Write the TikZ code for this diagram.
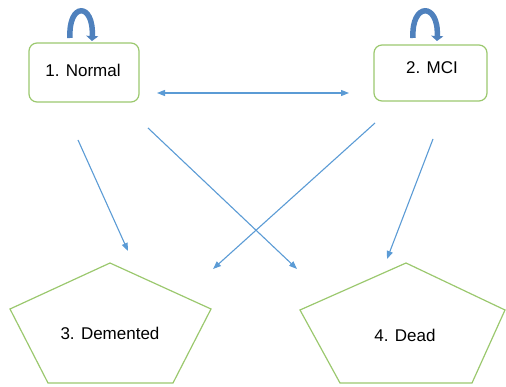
\documentclass[tikz,border=0pt]{standalone}
\usepackage{fontspec}
\setmainfont{Liberation Sans}
\usetikzlibrary{arrows.meta}
\definecolor{boxgreen}{RGB}{155,200,110}
\definecolor{arrblue}{RGB}{91,155,213}
\definecolor{loopblue}{RGB}{79,129,189}
\begin{document}
\begin{tikzpicture}[x=1pt,y=-1pt,
  statebox/.style={draw=boxgreen, line width=1.2pt, rounded corners=8pt, inner sep=0pt},
  pent/.style={draw=boxgreen, line width=1.2pt, line join=miter},
  lbl/.style={font=\fontsize{17}{20}\selectfont, inner sep=0pt},
  conn/.style={draw=arrblue, line width=1.1pt, -{Triangle[length=8pt,width=6pt]}},
  dconn/.style={draw=arrblue, line width=1.1pt, {Triangle[length=8pt,width=6pt]}-{Triangle[length=8pt,width=6pt]}},
  selfloop/.style={draw=loopblue, line width=5.5pt, -{Triangle[length=5pt,width=12pt]}}]
\useasboundingbox (0,0) rectangle (506,387);

% state boxes
\node[statebox, minimum width=110pt, minimum height=59pt] (normal) at (84,72.5) {};
\node[lbl] (normaltxt) at (83,70) {1. Normal};
\node[statebox, minimum width=113pt, minimum height=56pt] (mci) at (430.5,73) {};
\node[lbl] (mcitxt) at (432,68) {2. MCI};

% self loops
\coordinate (l1a) at (70,38);
\coordinate (l1b) at (92,41);
\draw[selfloop] (l1a) .. controls (68,2) and (94,2) .. (l1b);
\coordinate (l2a) at (413,38);
\coordinate (l2b) at (437,41);
\draw[selfloop] (l2a) .. controls (411,2) and (439,2) .. (l2b);

% pentagons
\draw[pent] (110,263) -- (211,309) -- (173,383) -- (48,383) -- (10,309) -- cycle;
\node[lbl] (dem) at (110,333) {3. Demented};
\draw[pent] (406,263) -- (505,310) -- (472,383) -- (340,383) -- (300,310) -- cycle;
\node[lbl] (dead) at (405,335) {4. Dead};

% connectors
\coordinate (dA) at (157,93);
\coordinate (dB) at (349,93);
\draw[dconn] (dA) -- (dB);

\coordinate (n1) at (78,140);
\coordinate (d1) at (128,251);
\draw[conn] (n1) -- (d1);

\coordinate (n2) at (148,128);
\coordinate (x2) at (297,269);
\draw[conn] (n2) -- (x2);

\coordinate (m1) at (375,123);
\coordinate (y1) at (213,269);
\draw[conn] (m1) -- (y1);

\coordinate (m2) at (433,139);
\coordinate (z2) at (387,259);
\draw[conn] (m2) -- (z2);
\end{tikzpicture}
\end{document}
